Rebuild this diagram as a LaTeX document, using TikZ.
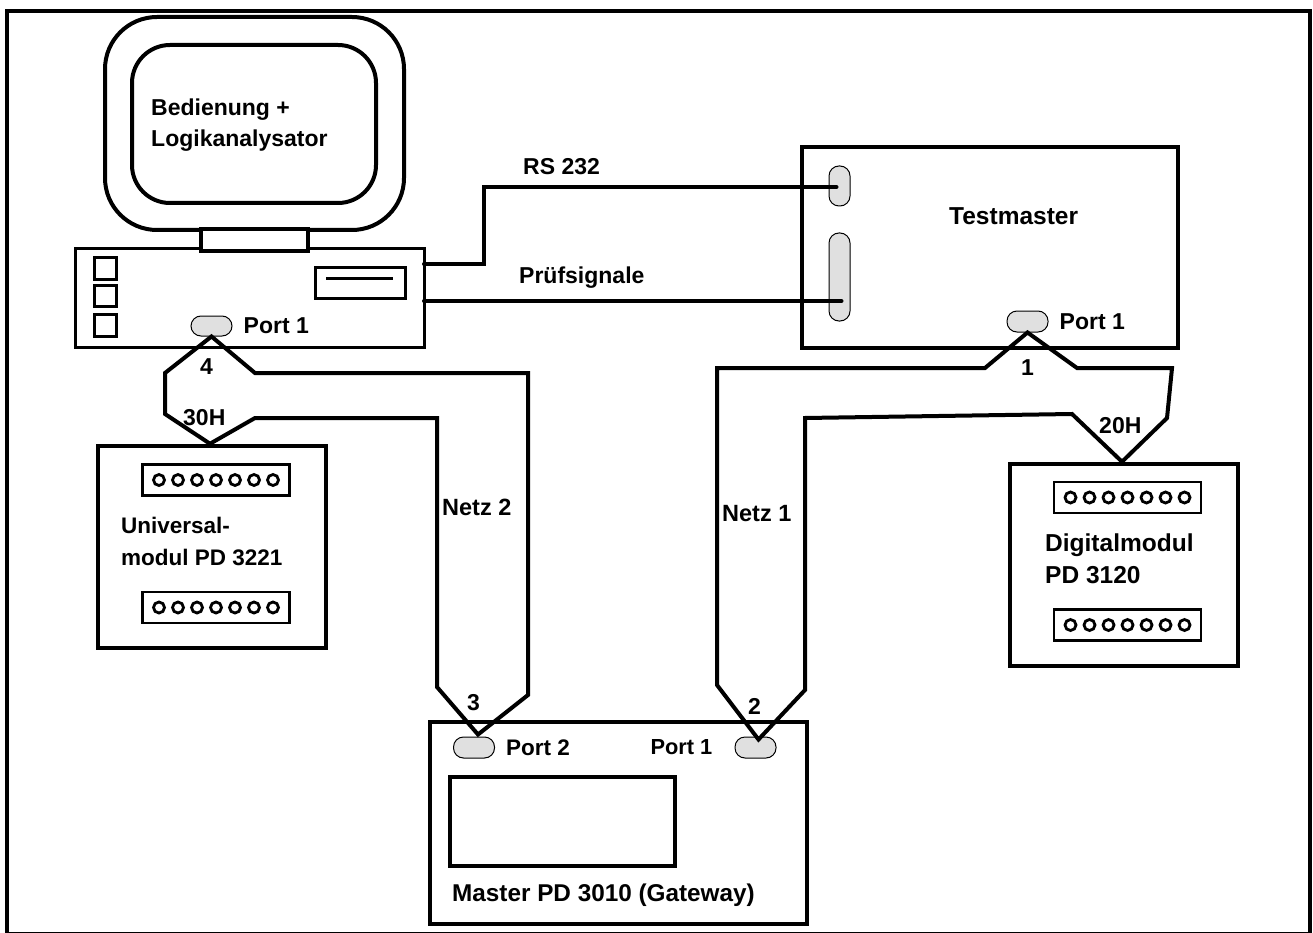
\documentclass[tikz,border=0pt]{standalone}
\usepackage{fontspec}
\setmainfont{Liberation Sans}
\usepackage{tikz}
\usetikzlibrary{positioning}

\begin{document}
\begin{tikzpicture}[
  x=1pt, y=-1pt,
  font=\fontsize{23}{31.5}\selectfont\bfseries,
  sz/.style={font=\fontsize{#1}{31.5}\selectfont\bfseries},
  box/.style={draw, line width=4pt, inner sep=0pt, fill=white},
  thinbox/.style={draw, line width=3pt, inner sep=0pt},
  strip/.style={draw, line width=2.5pt, inner sep=0pt, minimum width=147pt, minimum height=31pt},
  pin/.style={draw, circle, line width=2.8pt, inner sep=0pt, minimum size=11pt},
  pill/.style={draw, line width=1pt, inner sep=0pt, rounded corners=10pt, fill=black!12},
  lab/.style={inner sep=0pt, anchor=base west, align=left},
  wire/.style={draw, line width=4pt}
]
\useasboundingbox (0,0) rectangle (1313,933);
\node[box, line width=4.5pt, fill=none, minimum width=1303pt, minimum height=923pt] (frame) at (658.5,472.5) {};

% PC
\node[box, rounded corners=52pt, minimum width=299pt, minimum height=213pt] (monitor) at (254.5,123.5) {};
\node[box, rounded corners=38pt, minimum width=244pt, minimum height=158pt] (screen) at (254,124) {};
\node[thinbox, minimum width=349pt, minimum height=99pt] (pc) at (249.5,297.5) {};
\node[box, minimum width=107pt, minimum height=21pt] (neck) at (254.5,240) {};
\node[thinbox, minimum width=22pt, minimum height=22pt] (btna) at (105.5,268.5) {};
\node[thinbox, minimum width=22pt, minimum height=21pt, below=3pt of btna] (btnb) {};
\node[thinbox, minimum width=22pt, minimum height=22pt, below=5pt of btnb] (btnc) {};
\node[thinbox, minimum width=90pt, minimum height=31pt] (slot) at (360,283) {};
\draw[line width=3pt] ([xshift=-34pt,yshift=5pt]slot.center) coordinate (slota) -- ([xshift=33pt,yshift=5pt]slot.center) coordinate (slotb);
\node[pill, minimum width=41pt, minimum height=20pt] (pcport) at (211.5,326) {};
\node[inner sep=0pt, right=11pt of pcport] (pcportlab) {Port 1};
\node[lab] (pclab) at (151,147) {Bedienung +\\Logikanalysator};

% Testmaster
\node[box, minimum width=376pt, minimum height=201pt] (test) at (990,247.5) {};
\node[pill, minimum width=21pt, minimum height=40pt] (rsport) at (839.5,186) {};
\node[pill, minimum width=21pt, minimum height=88pt] (sigport) at (839.5,277) {};
\node[pill, minimum width=41pt, minimum height=21pt] (testport) at (1027.5,321.5) {};
\node[inner sep=0pt, right=11pt of testport] (testportlab) {Port 1};
\node[lab, sz=24.5] (testlab) at (949,225) {Testmaster};

% Universal module
\node[box, line width=4.5pt, minimum width=228pt, minimum height=202pt] (uni) at (212,547) {};
\node[strip] (unia) at (216,480) {};
\node[strip] (unib) at (216,607.5) {};
\node[lab, sz=22.5] (unilab) at (121,565) {Universal-\\modul PD 3221};

% Digital module
\node[box, line width=4.5pt, minimum width=228pt, minimum height=202pt] (dig) at (1124,565) {};
\node[strip] (diga) at (1127.5,497.5) {};
\node[strip] (digb) at (1127.5,625) {};
\node[lab, sz=24.5] (diglab) at (1045,583) {Digitalmodul\\PD 3120};

\foreach \s in {unia,unib,diga,digb}
  \foreach \i in {-3,...,3}
    \node[pin] (\s-\i) at ([xshift=\i*19pt]\s.center) {};

% Master
\node[box, minimum width=377pt, minimum height=202pt] (master) at (618.5,823) {};
\node[box, minimum width=225pt, minimum height=89pt] (display) at (562.5,821.5) {};
\node[pill, minimum width=41pt, minimum height=21pt] (mport2) at (474,747.5) {};
\node[pill, minimum width=41pt, minimum height=21pt] (mport1) at (755.5,747.5) {};
\node[inner sep=0pt, sz=22.5, right=11pt of mport2] (mport2lab) {Port 2};
\node[inner sep=0pt, sz=21.8, left=22pt of mport1] (mport1lab) {Port 1};
\node[lab, sz=24.3] (masterlab) at (452,901) {Master PD 3010 (Gateway)};

% Serial lines
\coordinate (rsout) at (424,264);
\coordinate (sigout) at (424,301);
\draw[wire, line cap=round] (rsout) -- (484,264) -- (484,187) -- ([xshift=-3pt,yshift=-1pt]rsport.center);
\draw[wire, line cap=round] (sigout) -- ([xshift=2pt,yshift=-24pt]sigport.center);
\node[lab] (rslab) at (523,175) {RS 232};
\node[lab] (siglab) at (519,283) {Prüfsignale};

% Netz 2
\draw[wire] (pcport.south) -- (255,373) -- (528,373) -- (528,695)
  -- ([xshift=4pt,yshift=2pt]mport2.north) -- (437,687) -- (437,418) -- (255,418)
  -- ([xshift=-2pt]uni.north) -- (165,414) -- (165,373) -- cycle;
\node[lab, sz=23.5] (net2lab) at (442,515) {Netz 2};

% Netz 1
\draw[wire] (testport.south) -- (985,368) -- (717,368) -- (717,685)
  -- ([xshift=3pt,yshift=-3pt]mport1.north) -- (805,690) -- (805,418) -- (1072,414)
  -- ([xshift=-2pt]dig.north) -- (1167,418) -- (1172,368) -- (1077,368) -- cycle;
\node[lab, sz=23.5] (net1lab) at (722,521) {Netz 1};

% Addresses
\node[lab] (addr4) at (200,374) {4};
\node[lab] (addr30) at (183,425) {30H};
\node[lab] (addr1) at (1021,375) {1};
\node[lab] (addr20) at (1099,433) {20H};
\node[lab] (addr3) at (467,710) {3};
\node[lab] (addr2) at (748,714) {2};
\end{tikzpicture}
\end{document}
